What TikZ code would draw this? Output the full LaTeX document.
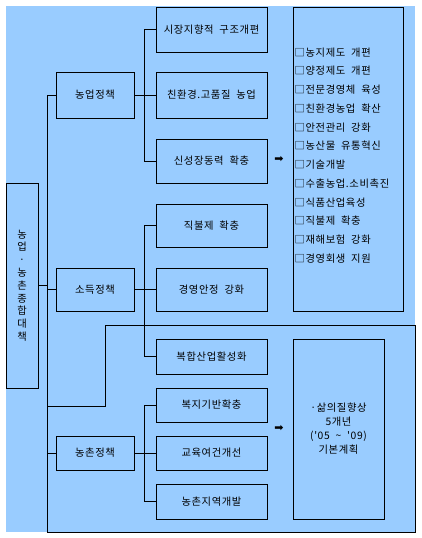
\documentclass[tikz,border=0pt]{standalone}
\usepackage{fontspec}
\newfontfamily\kr[LetterSpace=6,WordSpace=2]{Noto Sans CJK KR}
\newfontfamily\dejavu{DejaVu Sans}
\definecolor{bgblue}{HTML}{99CCFF}
\begin{document}
\begin{tikzpicture}[x=1pt,y=-1pt,
  every node/.style={font=\kr\fontsize{10.3}{12}\selectfont},
  box/.style={draw=black,line width=0.9pt,fill=bgblue,inner sep=0pt},
  wide/.style={box,minimum width=78pt},
  sub/.style={box,minimum width=111pt},
  conn/.style={draw=black,line width=0.9pt},
  arrowsym/.style={font=\dejavu\fontsize{11}{11}\selectfont,inner sep=0pt}]
\useasboundingbox (0,0) rectangle (422,538);
\fill[bgblue] (6,6) rectangle (415,532);

% left column
\node[box,minimum width=32pt,minimum height=205pt,align=center,
  font=\kr\fontsize{10.3}{12.8}\selectfont] (L) at (22,285.5)
  {농\\업\\·\\농\\촌\\종\\합\\대\\책};

% policy boxes
\node[wide,minimum height=46pt] (A) at (95,95) {농업정책};
\node[wide,minimum height=43pt] (B) at (95,289.5) {소득정책};
\node[wide,minimum height=34pt] (C) at (95,453) {농촌정책};

% sub boxes
\node[sub,minimum height=45pt] (A1) at (211.5,29.5) {시장지향적 구조개편};
\node[sub,minimum height=46pt] (A2) at (211.5,95) {친환경.고품질 농업};
\node[sub,minimum height=44pt] (A3) at (211.5,161) {신성장동력 확충};
\node[sub,minimum height=43pt] (B1) at (211.5,225.5) {직불제 확충};
\node[sub,minimum height=43pt] (B2) at (211.5,289.5) {경영안정 강화};
\node[sub,minimum height=35pt] (B3) at (211.5,356.5) {복합산업활성화};
\node[sub,minimum height=34pt] (C1) at (211.5,405) {복지기반확충};
\node[sub,minimum height=34pt] (C2) at (211.5,453) {교육여건개선};
\node[sub,minimum height=35pt] (C3) at (211.5,501.5) {농촌지역개발};

% result boxes
\node[box,minimum width=110pt,minimum height=304pt] (R1) at (348,159) {};
\node[anchor=north west,inner sep=0pt,align=left,
  font=\kr\fontsize{10.3}{18.73}\selectfont] (R1t) at (294.5,47.5)
  {□농지제도 개편\\□양정제도 개편\\□전문경영체 육성\\□친환경농업 확산\\□안전관리 강화\\□농산물 유통혁신\\□기술개발\\□수출농업.소비촉진\\□식품산업육성\\□직불제 확충\\□재해보험 강화\\□경영회생 지원};
\node[box,minimum width=91pt,minimum height=180pt] (R2) at (338.5,429) {};
\node[align=center,inner sep=0pt,font=\kr\fontsize{10.3}{14}\selectfont] (R2t) at (338.5,429)
  {·삶의질향상\\5개년\\('05 \textasciitilde\ '09)\\기본계획};

% arrows
\node[arrowsym] (ar1) at (279,159) {➡};
\node[arrowsym] (ar2) at (279,428) {➡};

% trunk and highlight outline
\coordinate (trunk) at (47,0);
\coordinate (bus) at (144,0);
\coordinate (o1) at (47,406);
\coordinate (o2) at (105,406);
\coordinate (o3) at (105,325);
\coordinate (o4) at (415,325);
\coordinate (o5) at (415,532);
\coordinate (o6) at (47,532);
\draw[conn] (o1) -- (o2) -- (o3) -- (o4) -- (o5) -- (o6);
\draw[conn] (trunk |- A.west) -- (o6);
\draw[conn] (L.east) -- (L.east -| trunk);
\draw[conn] (trunk |- A.west) -- (A.west);
\draw[conn] (trunk |- B.west) -- (B.west);
\draw[conn] (trunk |- C.west) -- (C.west);

% branches
\draw[conn] (A.east) -- (A.east -| bus);
\draw[conn] (bus |- A1.west) -- (bus |- A3.west);
\foreach \n in {A1,A2,A3} \draw[conn] (bus |- \n.west) -- (\n.west);
\draw[conn] (B.east) -- (B.east -| bus);
\draw[conn] (bus |- B1.west) -- (bus |- B3.west);
\foreach \n in {B1,B2,B3} \draw[conn] (bus |- \n.west) -- (\n.west);
\draw[conn] (C.east) -- (C.east -| bus);
\draw[conn] (bus |- C1.west) -- (bus |- C3.west);
\foreach \n in {C1,C2,C3} \draw[conn] (bus |- \n.west) -- (\n.west);
\end{tikzpicture}
\end{document}
